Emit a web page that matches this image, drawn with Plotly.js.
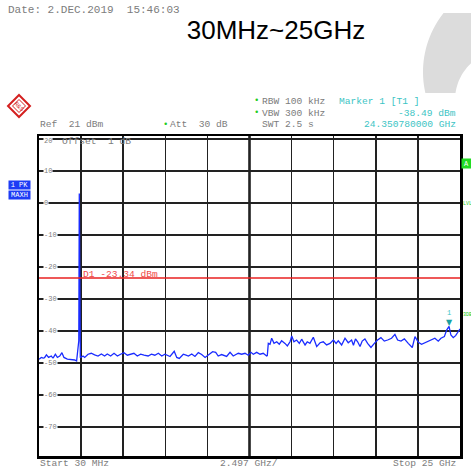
<!DOCTYPE html>
<html><head><meta charset="utf-8">
<script src="https://cdn.plot.ly/plotly-3.0.1.min.js"></script>
<style>html,body{margin:0;padding:0;background:#fff}</style>
</head><body>
<div id="chart" style="width:471px;height:470px"></div>
<script>
// ---- data ----
const freqGHz = [0.03,0.17,0.33,0.47,0.60,0.76,0.86,1.00,1.12,1.26,1.39,1.51,1.71,1.95,2.15,2.26,2.34,2.39,2.42,2.44,2.48,2.64,2.74,2.94,3.13,3.33,3.53,3.73,3.92,4.08,4.28,4.48,4.68,4.87,5.07,5.27,5.47,5.66,5.86,6.06,6.26,6.50,6.70,6.90,7.11,7.31,7.50,7.65,7.80,8.05,8.20,8.35,8.59,8.75,8.89,9.09,9.28,9.48,9.68,9.88,10.17,10.33,10.51,10.66,10.86,11.16,11.36,11.55,11.85,12.05,12.25,12.44,12.60,12.74,12.94,13.14,13.33,13.53,13.57,13.59,13.63,13.73,13.83,13.97,14.13,14.28,14.42,14.62,14.76,14.92,15.02,15.15,15.31,15.47,15.61,15.81,15.94,16.10,16.30,16.50,16.70,16.89,17.09,17.29,17.49,17.65,17.78,17.98,18.18,18.37,18.57,18.68,18.80,18.93,19.07,19.20,19.36,19.52,19.72,19.92,20.11,20.31,20.51,20.71,20.94,21.14,21.30,21.50,21.70,21.93,22.17,22.33,22.53,22.72,22.96,23.22,23.51,23.71,23.87,24.07,24.21,24.35,24.46,24.60,24.74,24.90,25.00];
const levelDbm = [-48.8,-48.2,-48.5,-47.4,-48.2,-47.75,-48.5,-47.2,-48.2,-47.75,-46.7,-48.2,-48.7,-48.8,-49.0,-49.3,-45.9,-43.0,3.0,-44.0,-48.3,-47.75,-48.2,-47.2,-46.9,-47.4,-47.75,-47.1,-47.75,-47.1,-47.75,-46.9,-47.75,-47.2,-46.7,-47.5,-47.3,-46.9,-47.75,-47.2,-47.5,-47.75,-47.2,-47.5,-46.9,-47.75,-47.2,-47.5,-47.9,-46.3,-48.2,-48.5,-47.2,-47.5,-47.75,-47.1,-47.9,-46.7,-47.3,-48.2,-47.1,-46.4,-46.6,-47.75,-47.3,-47.9,-46.6,-47.75,-46.9,-47.2,-46.9,-47.5,-46.6,-47.2,-46.6,-47.2,-46.9,-47.75,-47.6,-44.0,-43.8,-44.1,-42.2,-43.8,-43.3,-44.1,-43.0,-43.8,-44.6,-43.3,-41.5,-43.3,-42.75,-43.8,-42.5,-44.3,-43.3,-43.8,-41.9,-44.8,-43.6,-43.3,-44.3,-43.8,-42.75,-43.8,-43.0,-44.3,-42.2,-43.6,-42.75,-44.4,-42.4,-43.3,-44.8,-43.1,-42.4,-43.8,-45.1,-43.8,-42.75,-42.0,-43.1,-42.75,-42.2,-41.0,-42.75,-43.1,-42.4,-43.8,-45.1,-41.7,-43.5,-44.1,-43.5,-42.75,-42.2,-43.1,-42.2,-41.7,-39.6,-38.49,-41.2,-42.0,-41.4,-40.1,-39.3];
const startGHz = 0.03, stopGHz = 25, spanPerDivGHz = 2.497;
const refLevelDbm = 21, dbPerDiv = 10, numDiv = 10;
const yTickValues = [20,10,0,-10,-20,-30,-40,-50,-60,-70];
const yTickLabels = ['20','10','0','-10','-20','-30','-40','-50','-60','-70'];
const displayLineDbm = -23.34;
const markerFreqGHz = 24.35078, markerLevelDbm = -38.49;

// ---- layout helpers (pixel -> paper) ----
const W = 471, H = 470, L = 39, R = 460, T = 136, B = 456;
const px = x => (x - L) / (R - L);
const py = y => (B - y) / (B - T);
const MONO = 'Liberation Mono, DejaVu Sans Mono, monospace';
const GREY = '#7c7c7c', CYAN = '#3cc4c4', GREEN = '#22cc22';
function txt(text, x, y, o) {
  o = o || {};
  return Object.assign({
    text: text, xref: 'paper', yref: 'paper', x: px(x), y: py(y),
    xanchor: o.xanchor || 'left', yanchor: 'middle', showarrow: false,
    font: {family: MONO, size: o.size || 9.6, color: o.color || GREY}
  }, o.extra || {});
}

const annotations = [
  txt('Date: 2.DEC.2019  15:46:03', 6, 10, {size: 11}),
  txt('Ref  21 dBm', 38, 125),
  txt('\u2022', 161, 125, {color: GREEN, size: 9}),
  txt('Att  30 dB', 168, 125),
  txt('\u2022', 252, 101.5, {color: GREEN, size: 9}),
  txt('RBW 100 kHz', 260, 101.5),
  txt('\u2022', 252, 113, {color: GREEN, size: 9}),
  txt('VBW 300 kHz', 260, 113),
  txt('SWT 2.5 s', 260, 124.5),
  txt('Marker 1 [T1 ]', 337, 101.5, {color: CYAN}),
  txt('-38.49 dBm', 458, 113, {color: CYAN, xanchor: 'right'}),
  txt('24.350780000 GHz', 458, 124.5, {color: CYAN, xanchor: 'right'}),
  txt('Offset  1 dB', 60, 141.5),
  txt('D1 -23.34 dBm', 81, 274.5, {color: '#f04848'}),
  txt('Start 30 MHz', 38, 463),
  txt('2.497 GHz/', 249, 463, {xanchor: 'center'}),
  txt('Stop 25 GHz', 458, 463, {xanchor: 'right'}),
  txt('LVL', 461, 204, {color: GREEN, size: 5}),
  txt('3DB', 461, 314.5, {color: GREEN, size: 5}),
  txt('1 PK', 19.5, 185, {xanchor: 'center', color: '#fff', size: 7,
      extra: {bgcolor: '#1e3cf5', width: 21, height: 8, borderpad: 0}}),
  txt('MAXH', 19.5, 195.2, {xanchor: 'center', color: '#fff', size: 7,
      extra: {bgcolor: '#1e3cf5', width: 21, height: 8, borderpad: 0}}),
  txt('A', 466.5, 163.8, {xanchor: 'center', color: '#fff', size: 7,
      extra: {bgcolor: '#22dd22', width: 9, height: 9, borderpad: 0}}),
  txt('R&S', 19, 106, {xanchor: 'center', color: '#d42020', size: 6,
      extra: {textangle: 45}}),
  {text: '\u25BC', xref: 'x', yref: 'y', x: markerFreqGHz, y: markerLevelDbm,
   xanchor: 'center', yanchor: 'bottom', showarrow: false, yshift: -3,
   font: {family: 'DejaVu Sans', size: 8, color: '#1aa0a0'}},
  {text: '1', xref: 'x', yref: 'y', x: markerFreqGHz, y: markerLevelDbm,
   xanchor: 'center', yanchor: 'bottom', showarrow: false, yshift: 7,
   font: {family: MONO, size: 7, color: CYAN}}
];
yTickValues.forEach((v, i) => annotations.push({
  text: yTickLabels[i], xref: 'paper', yref: 'y', x: px(43), y: v,
  xanchor: 'left', yanchor: 'middle', showarrow: false, bgcolor: '#fff',
  borderpad: 0, yshift: v === 20 ? -2 : 0,
  font: {family: MONO, size: 7, color: GREY}
}));

// grey background arc (top-right decoration)
function pathFrom(pts) {
  return 'M ' + pts.map(p => px(p[0]).toFixed(4) + ',' + py(p[1]).toFixed(4)).join(' L ') + ' Z';
}
const arcPts = [];
for (let a = 0; a <= 20; a++) {
  const yy = 13 + 80 * a / 20;
  arcPts.push([518 - Math.sqrt(95 * 95 - (yy - 72) * (yy - 72)), yy]);
}
for (let a = 0; a <= 20; a++) {
  const yy = 93 - (93 - 56.7) * a / 20;
  arcPts.push([505 - Math.sqrt(Math.max(0, 50 * 50 - (yy - 100) * (yy - 100))), yy]);
}
arcPts.push([480, 56.7]); arcPts.push([480, 13]);

const diamond = (cx, cy, r) => pathFrom([[cx, cy - r], [cx + r, cy], [cx, cy + r], [cx - r, cy]]);

const shapes = [
  {type: 'path', xref: 'paper', yref: 'paper', path: pathFrom(arcPts),
   fillcolor: '#dcdcdc', line: {width: 0}, layer: 'below'},
  {type: 'path', xref: 'paper', yref: 'paper', path: diamond(19, 106, 11),
   fillcolor: '#fff', line: {color: '#d42020', width: 2}},
  {type: 'path', xref: 'paper', yref: 'paper', path: diamond(19, 106, 6.5),
   fillcolor: 'rgba(0,0,0,0)', line: {color: '#d42020', width: 1}},
  {type: 'line', xref: 'x', yref: 'paper', x0: startGHz + 5 * spanPerDivGHz,
   x1: startGHz + 5 * spanPerDivGHz, y0: 0, y1: 1, line: {color: '#111', width: 2.5}, layer: 'below'},
  {type: 'line', xref: 'paper', yref: 'y', x0: 0, x1: 1, y0: displayLineDbm, y1: displayLineDbm,
   line: {color: '#e82020', width: 1.5}}
];

const trace = {
  x: freqGHz, y: levelDbm, type: 'scatter', mode: 'lines',
  line: {color: '#1a2cff', width: 1.3}, hoverinfo: 'skip'
};

const layout = {
  width: W, height: H,
  margin: {l: L, r: W - R, t: T, b: H - B, pad: 0},
  paper_bgcolor: '#fff', plot_bgcolor: '#fff',
  showlegend: false,
  title: {text: '30MHz~25GHz', x: 276 / W, xanchor: 'center', y: 1 - 30 / H, yanchor: 'middle',
          xref: 'container', yref: 'container',
          font: {family: 'Liberation Sans, Arial, sans-serif', size: 26, color: '#000'}},
  xaxis: {range: [startGHz, stopGHz], tick0: startGHz, dtick: spanPerDivGHz,
          showticklabels: false, ticks: '', showgrid: true, gridcolor: '#222', gridwidth: 1.5,
          zeroline: false, showline: true, mirror: true, linecolor: '#000', linewidth: 2.5},
  yaxis: {range: [refLevelDbm - numDiv * dbPerDiv, refLevelDbm], tick0: 0, dtick: dbPerDiv,
          showticklabels: false, ticks: '', showgrid: true, gridcolor: '#222', gridwidth: 1.5,
          zeroline: false, showline: true, mirror: true, linecolor: '#000', linewidth: 2.5},
  shapes: shapes,
  annotations: annotations
};

Plotly.newPlot('chart', [trace], layout, {displayModeBar: false, staticPlot: true});
</script>
</body></html>
